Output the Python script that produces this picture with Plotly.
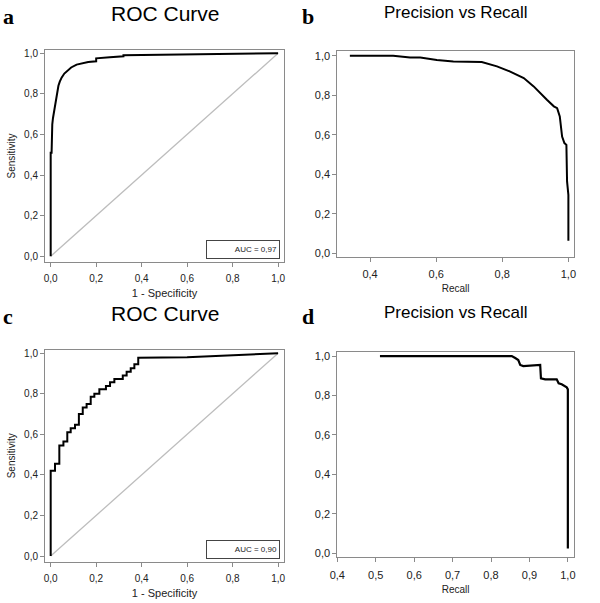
import plotly.graph_objects as go

# ---------------- data ----------------
roc_a_fpr = [0, 0, 0.004, 0.004, 0.007, 0.01, 0.016, 0.02, 0.026, 0.034, 0.04, 0.048, 0.06, 0.077,
             0.09, 0.114, 0.14, 0.165, 0.2, 0.2, 0.26, 0.32, 0.32, 0.47, 0.7, 1.0]
roc_a_tpr = [0, 0.51, 0.51, 0.63, 0.65, 0.68, 0.72, 0.76, 0.80, 0.84, 0.86, 0.88, 0.90, 0.92,
             0.93, 0.944, 0.952, 0.957, 0.96, 0.975, 0.98, 0.985, 0.99, 0.993, 0.995, 1.0]

roc_c_fpr = [0, 0, 0.019, 0.019, 0.038, 0.038, 0.056, 0.056, 0.073, 0.073, 0.088, 0.088, 0.107, 0.107,
             0.124, 0.124, 0.141, 0.141, 0.158, 0.158, 0.176, 0.176, 0.192, 0.192, 0.214, 0.214,
             0.243, 0.243, 0.261, 0.261, 0.28, 0.28, 0.317, 0.317, 0.334, 0.334, 0.352, 0.352,
             0.368, 0.368, 0.385, 0.385, 0.6, 1.0]
roc_c_tpr = [0, 0.42, 0.42, 0.455, 0.455, 0.545, 0.545, 0.565, 0.565, 0.61, 0.61, 0.63, 0.63, 0.647,
             0.647, 0.70, 0.70, 0.733, 0.733, 0.75, 0.75, 0.786, 0.786, 0.80, 0.80, 0.823,
             0.823, 0.839, 0.839, 0.857, 0.857, 0.873, 0.873, 0.89, 0.89, 0.909, 0.909, 0.926,
             0.926, 0.946, 0.946, 0.978, 0.98, 1.0]

pr_b_recall = [0.339, 0.47, 0.521, 0.552, 0.602, 0.652, 0.738, 0.784, 0.824, 0.865, 0.895, 0.915,
               0.935, 0.956, 0.966, 0.974, 0.981, 0.988, 0.994, 0.996, 1.0, 1.0]
pr_b_precision = [1.0, 1.0, 0.991, 0.991, 0.979, 0.971, 0.968, 0.946, 0.92, 0.887, 0.845, 0.81,
                  0.777, 0.744, 0.735, 0.693, 0.591, 0.558, 0.549, 0.364, 0.296, 0.064]

pr_d_recall = [0.511, 0.854, 0.863, 0.871, 0.876, 0.884, 0.928, 0.93, 0.941, 0.971, 0.976, 0.984,
               0.997, 1.0, 1.0]
pr_d_precision = [1.0, 1.0, 0.99, 0.98, 0.955, 0.949, 0.955, 0.887, 0.882, 0.882, 0.862, 0.857,
                  0.841, 0.831, 0.025]

diag = [0, 1]

auc_a_label = "AUC = 0,97"
auc_c_label = "AUC = 0,90"

roc_ticks = [0, 0.2, 0.4, 0.6, 0.8, 1.0]
pr_b_xticks = [0.4, 0.6, 0.8, 1.0]
pr_d_xticks = [0.4, 0.5, 0.6, 0.7, 0.8, 0.9, 1.0]
prec_ticks = [0, 0.2, 0.4, 0.6, 0.8, 1.0]

panel_letters = ["a", "b", "c", "d"]
roc_title = "ROC Curve"
pr_title = "Precision vs Recall"

# ---------------- figure ----------------
W, H = 600, 603
def px(x):
    return x / W
def py(y):
    return (H - y) / H

SANS = "Liberation Sans, Arial, sans-serif"
SERIF = "Liberation Serif, Times New Roman, serif"
FRAME = "#8a8a8a"
TXT = "#222222"

fig = go.Figure()

curve = dict(color="black", width=2)
diag_line = dict(color="#bdbdbd", width=1.3)

fig.add_trace(go.Scatter(x=diag, y=diag, mode="lines", line=diag_line, xaxis="x", yaxis="y", showlegend=False, hoverinfo="skip"))
fig.add_trace(go.Scatter(x=roc_a_fpr, y=roc_a_tpr, mode="lines", line=curve, xaxis="x", yaxis="y", showlegend=False, name=auc_a_label))
fig.add_trace(go.Scatter(x=pr_b_recall, y=pr_b_precision, mode="lines", line=curve, xaxis="x2", yaxis="y2", showlegend=False))
fig.add_trace(go.Scatter(x=diag, y=diag, mode="lines", line=diag_line, xaxis="x3", yaxis="y3", showlegend=False, hoverinfo="skip"))
fig.add_trace(go.Scatter(x=roc_c_fpr, y=roc_c_tpr, mode="lines", line=curve, xaxis="x3", yaxis="y3", showlegend=False, name=auc_c_label))
fig.add_trace(go.Scatter(x=pr_d_recall, y=pr_d_precision, mode="lines", line=dict(color="black", width=2.2), xaxis="x4", yaxis="y4", showlegend=False))

def ax(domain, rng, ticks, title=None, title_size=11, anchor=None, standoff=None, tfsize=10, lstand=0):
    d = dict(domain=domain, range=rng, tickvals=ticks, tickformat=".1f",
             showline=True, mirror=True, linecolor=FRAME, linewidth=1,
             ticks="outside", ticklen=4, tickcolor=FRAME, tickwidth=1,
             showgrid=False, zeroline=False, fixedrange=True, automargin=False,
             ticklabelstandoff=lstand,
             tickfont=dict(family=SANS, size=tfsize, color=TXT), anchor=anchor)
    if title is not None:
        d["title"] = dict(text=title, font=dict(family=SANS, size=title_size, color=TXT), standoff=standoff)
    return d

# panel domains (pixel frames converted to paper)
xa = [px(45), px(284)]
xb = [px(337.3), px(574)]
ya = [py(262), py(50)]
yb = [py(256.7), py(51)]
yc = [py(561.7), py(350)]
yd = [py(557.3), py(351.7)]

roc_xr = [-0.025, 1.026]
roc_yr = [-0.028, 1.016]

fig.update_layout(
    width=W, height=H, margin=dict(l=0, r=0, t=0, b=0, autoexpand=False),
    paper_bgcolor="white", plot_bgcolor="white",
    separators=", ",
    showlegend=False,
    xaxis=ax(xa, roc_xr, roc_ticks, "1 - Specificity", 11, "y", 6, lstand=3),
    yaxis=ax(ya, roc_yr, roc_ticks, "Sensitivity", 10, "x", 6),
    xaxis2=ax(xb, [0.301, 1.017], pr_b_xticks, "Recall", 10, "y2", 6, 11, lstand=3),
    yaxis2=ax(yb, [-0.017, 1.024], prec_ticks, None, 11, "x2", None, 11),
    xaxis3=ax(xa, roc_xr, roc_ticks, "1 - Specificity", 11, "y3", 6, lstand=3),
    yaxis3=ax(yc, roc_yr, roc_ticks, "Sensitivity", 10, "x3", 6),
    xaxis4=ax(xb, [0.4, 1.016], pr_d_xticks, "Recall", 10, "y4", 6, 11, lstand=3),
    yaxis4=ax(yd, [-0.020, 1.022], prec_ticks, None, 11, "x4", None, 11),
)

ann = []
# panel letters
for letter, (lx, ly) in zip(panel_letters, [(8, 17), (308, 17), (8, 316), (308, 316)]):
    ann.append(dict(text=f"<b>{letter}</b>", x=px(lx), y=py(ly), xref="paper", yref="paper",
                    showarrow=False, xanchor="center", yanchor="middle",
                    font=dict(family=SERIF, size=22, color="black")))
# titles
ann.append(dict(text=roc_title, x=px(165), y=py(13.5), xref="paper", yref="paper", showarrow=False,
                xanchor="center", yanchor="middle", font=dict(family=SANS, size=21, color="black")))
ann.append(dict(text=pr_title, x=px(456), y=py(12.5), xref="paper", yref="paper", showarrow=False,
                xanchor="center", yanchor="middle", font=dict(family=SANS, size=17, color="black")))
ann.append(dict(text=roc_title, x=px(165), y=py(313), xref="paper", yref="paper", showarrow=False,
                xanchor="center", yanchor="middle", font=dict(family=SANS, size=21, color="black")))
ann.append(dict(text=pr_title, x=px(456), y=py(312), xref="paper", yref="paper", showarrow=False,
                xanchor="center", yanchor="middle", font=dict(family=SANS, size=17, color="black")))

shapes = []
# legend boxes for ROC panels
for label, cy in [(auc_a_label, 249.3), (auc_c_label, 549.5)]:
    ann.append(dict(text=label, x=px(280), y=py(cy), xref="paper", yref="paper", showarrow=False,
                    xanchor="right", yanchor="middle", width=68, height=13, align="right",
                    borderpad=2, borderwidth=1, bordercolor="#444444", bgcolor="white",
                    font=dict(family=SANS, size=8, color=TXT)))
    shapes.append(dict(type="line", xref="paper", yref="paper", x0=px(210.7), x1=px(230),
                       y0=py(cy), y1=py(cy), line=dict(color="black", width=2)))

fig.update_layout(annotations=ann, shapes=shapes)

fig.write_html("out.html", config={"displayModeBar": False, "staticPlot": True},
               post_script="document.body.style.margin='0px';")
